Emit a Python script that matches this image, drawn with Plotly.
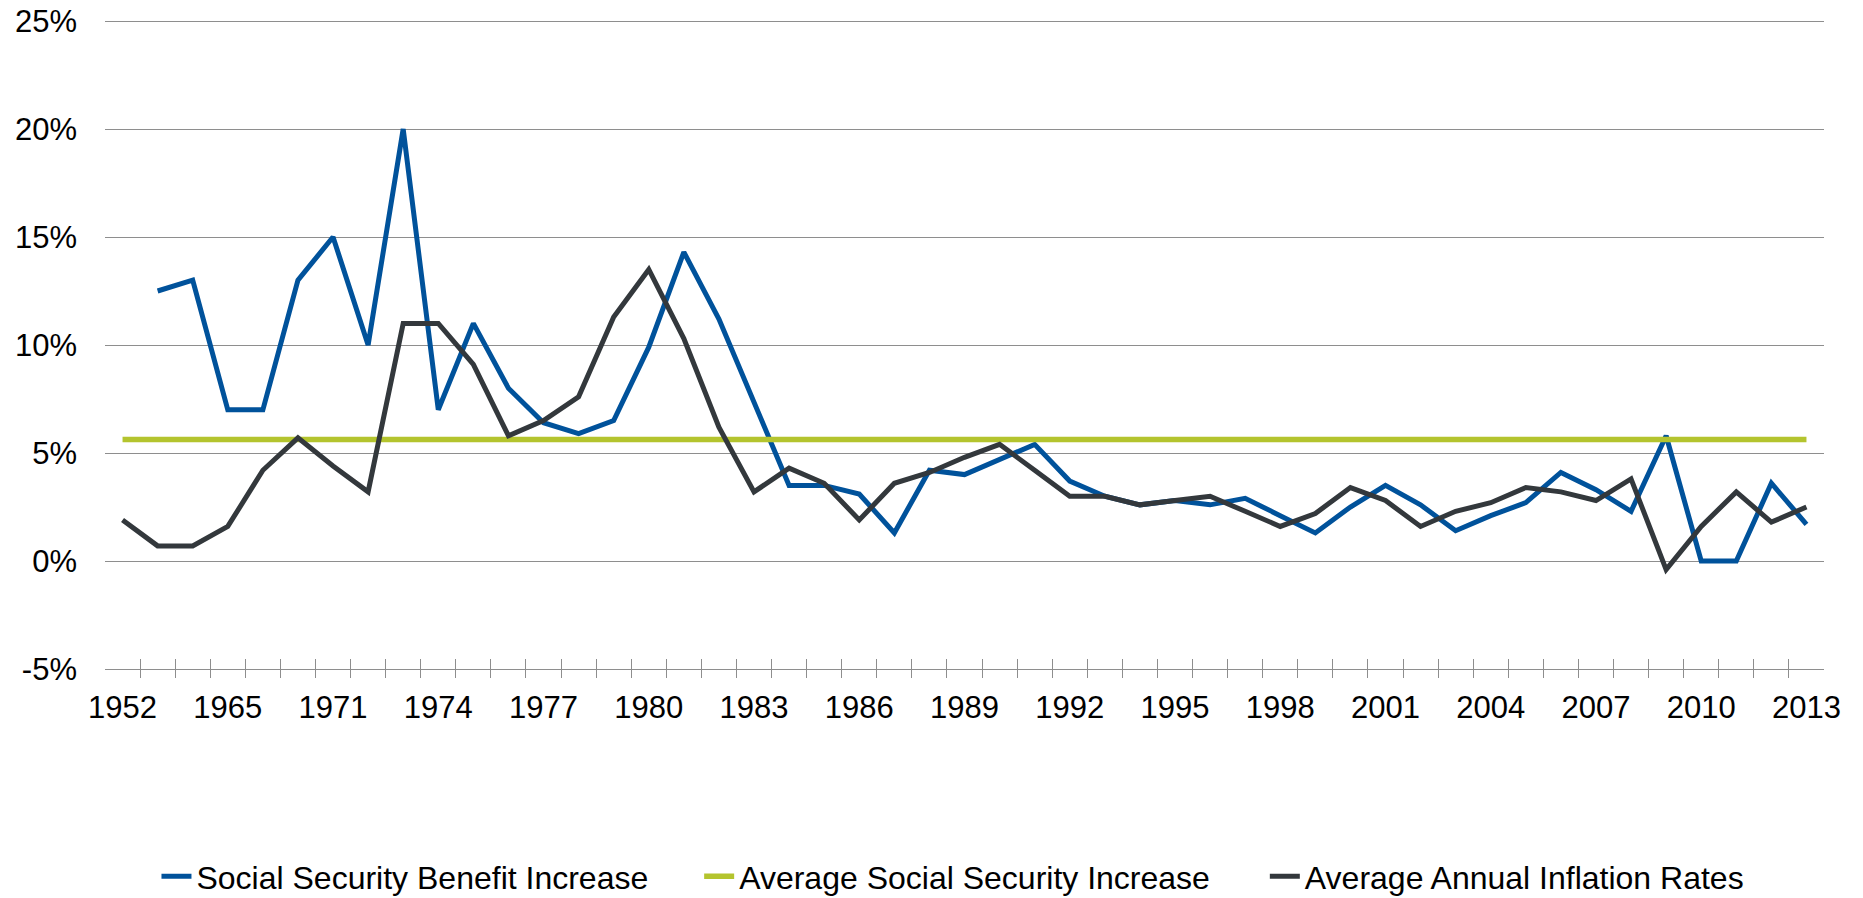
import plotly.graph_objects as go

# Category axis: one slot per adjustment year; only every third year is labelled
years = ["1952", "1954", "1959", "1965", "1968", "1970"] + [str(y) for y in range(1971, 2014)]
labelled_years = years[::3]

# Social Security cost-of-living benefit increases (%)
benefit_increase = [None, 12.5, 13.0, 7.0, 7.0, 13.0, 15.0, 10.0, 20.0, 7.0,
                    11.0, 8.0, 6.4, 5.9, 6.5, 9.9, 14.3, 11.2, 7.4, 3.5,
                    3.5, 3.1, 1.3, 4.2, 4.0, 4.7, 5.4, 3.7, 3.0, 2.6,
                    2.8, 2.6, 2.9, 2.1, 1.3, 2.5, 3.5, 2.6, 1.4, 2.1,
                    2.7, 4.1, 3.3, 2.3, 5.8, 0.0, 0.0, 3.6, 1.7]

# Average annual inflation (%)
inflation_rate = [1.9, 0.7, 0.7, 1.6, 4.2, 5.7, 4.4, 3.2, 11.0, 11.0,
                  9.1, 5.8, 6.5, 7.6, 11.3, 13.5, 10.3, 6.2, 3.2, 4.3,
                  3.6, 1.9, 3.6, 4.1, 4.8, 5.4, 4.2, 3.0, 3.0, 2.6,
                  2.8, 3.0, 2.3, 1.6, 2.2, 3.4, 2.8, 1.6, 2.3, 2.7,
                  3.4, 3.2, 2.8, 3.8, -0.4, 1.6, 3.2, 1.8, 2.5]

# Average Social Security increase over the period (%)
average_increase = 5.63
average_line = [average_increase] * len(years)

# y-axis ticks
y_ticks = [-5, 0, 5, 10, 15, 20, 25]
y_tick_text = ["-5%", "0%", "5%", "10%", "15%", "20%", "25%"]

BLUE = "#00529B"
GREEN = "#B4C42E"
DARK = "#33383C"
GRID = "#8E8E8E"
FONT = "Liberation Sans, Arial, sans-serif"

# plot geometry (px)
W, H = 1863, 898
LEFT, RIGHT = 104.5, 38.5
px_per_unit = 108.0 / 5.0
HEADROOM = 4.0                        # keeps the 25% gridline off the plot edge
TOP = 20.6 - HEADROOM
BOTTOM = 220.4
plot_h = H - TOP - BOTTOM
y_top = 25.0 + HEADROOM / px_per_unit
y_bottom = -5.0 - 9.0 / px_per_unit   # axis baseline sits 9px above the plot edge


def legend_x(text_left_px):
    return (text_left_px - 40 - LEFT) / (W - LEFT - RIGHT)


legend_y = (TOP + plot_h - 876) / plot_h

fig = go.Figure()
fig.add_trace(go.Scatter(
    x=years, y=benefit_increase, mode="lines", name="Social Security Benefit Increase",
    line=dict(color=BLUE, width=5), legend="legend"))
fig.add_trace(go.Scatter(
    x=years, y=average_line, mode="lines", name="Average Social Security Increase",
    line=dict(color=GREEN, width=5.5), legend="legend2"))
fig.add_trace(go.Scatter(
    x=years, y=inflation_rate, mode="lines", name="Average Annual Inflation Rates",
    line=dict(color=DARK, width=5), legend="legend3"))

legend_common = dict(orientation="h", yanchor="middle", xanchor="left", y=legend_y,
                     font=dict(family=FONT, size=32, color="#000000"),
                     bgcolor="rgba(0,0,0,0)", borderwidth=0)

fig.update_layout(
    width=W, height=H,
    margin=dict(l=LEFT, r=RIGHT, t=TOP, b=BOTTOM, autoexpand=False),
    paper_bgcolor="white", plot_bgcolor="white",
    font=dict(family=FONT, size=31, color="#000000"),
    showlegend=True,
    legend=dict(x=legend_x(196), **legend_common),
    legend2=dict(x=legend_x(739), **legend_common),
    legend3=dict(x=legend_x(1305), **legend_common),
    xaxis=dict(
        type="category", categoryorder="array", categoryarray=years,
        range=[-0.5, len(years) - 0.5],
        tickmode="array", tickvals=years,
        ticktext=[y if y in labelled_years else "" for y in years],
        tickangle=0,
        tickson="boundaries", ticks="inside", ticklen=19, tickwidth=1.3, tickcolor=GRID,
        showgrid=False, showline=False, zeroline=False,
        ticklabelstandoff=8,
        tickfont=dict(family=FONT, size=31, color="#000000"),
    ),
    yaxis=dict(
        range=[y_bottom, y_top],
        tickmode="array", tickvals=y_ticks, ticktext=y_tick_text,
        showgrid=True, gridcolor=GRID, gridwidth=1.3,
        zeroline=False, showline=False, ticks="",
        ticklabelstandoff=27,
        tickfont=dict(family=FONT, size=31, color="#000000"),
    ),
)

fig.write_html("out.html")
